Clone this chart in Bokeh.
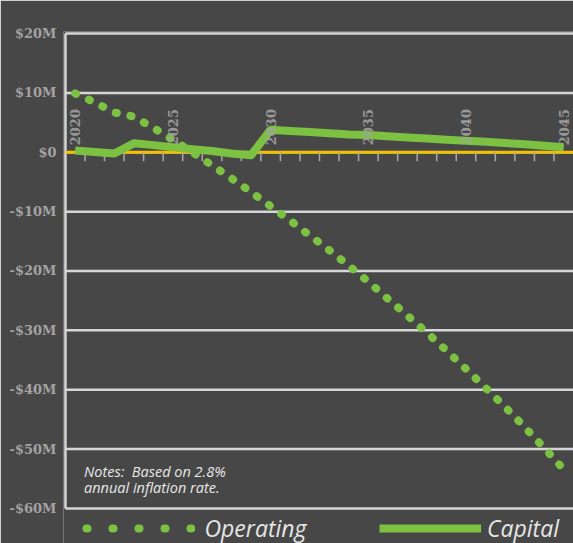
import math
from bokeh.plotting import figure
from bokeh.models import Range1d, FixedTicker, Legend, LegendItem, Label
from bokeh.core.properties import value
from bokeh.embed import file_html
from bokeh.resources import INLINE

# ---- data ----
years = list(range(2020, 2046))
operating = [9.9, 8.4, 6.7, 6.0, 4.1, 2.1, 0.0, -2.2, -4.4, -6.7, -9.1, -11.5, -14.0,
             -16.5, -19.1, -21.8, -24.7, -27.5, -30.4, -33.4, -36.5, -39.7, -42.9,
             -46.3, -49.8, -53.4]  # $M
capital = [0.3, 0.05, -0.2, 1.5, 1.2, 0.85, 0.5, 0.2, -0.2, -0.5, 3.8, 3.6, 3.4, 3.2,
           3.0, 2.9, 2.7, 2.5, 2.3, 2.1, 1.95, 1.75, 1.55, 1.35, 1.1, 0.85]  # $M
x_label_years = [2020, 2025, 2030, 2035, 2040, 2045]
y_ticks = [-60, -50, -40, -30, -20, -10, 0, 10, 20]
y_tick_labels = ["-$60M", "-$50M", "-$40M", "-$30M", "-$20M", "-$10M", "$0", "$10M", "$20M"]
notes = ["Notes:\u00a0 Based on 2.8%", "annual inflation rate."]
series_names = ["Operating", "Capital"]

BG = "#474747"
GREEN = "#7cc142"
GRID = "#d6d6d6"
LABEL_GREY = "#a3a3a3"

idx = list(range(len(years)))
y_lo, y_hi = min(y_ticks), max(y_ticks)

# frame spans the full lower part of the page; legend sits inside it under the grid
p = figure(width=573, height=543, output_backend="svg", toolbar_location=None,
           x_range=Range1d(-0.6, len(years) - 0.5), y_range=Range1d(-65.9, 20.34),
           x_axis_type=None, min_border_left=63, min_border_right=0,
           min_border_top=31, min_border_bottom=0)
p.background_fill_color = BG
p.border_fill_color = BG
p.outline_line_color = None

# y axis (labels only); the axis line is drawn between the outer grid lines
p.yaxis.ticker = FixedTicker(ticks=y_ticks)
p.yaxis.major_label_overrides = {t: s for t, s in zip(y_ticks, y_tick_labels)}
p.yaxis.major_tick_line_color = None
p.yaxis.major_tick_out = 0
p.yaxis.major_tick_in = 0
p.yaxis.minor_tick_line_color = None
p.yaxis.axis_line_color = None
p.yaxis.major_label_text_font = "DejaVu Serif"
p.yaxis.major_label_text_font_style = "bold"
p.yaxis.major_label_text_font_size = "13px"
p.yaxis.major_label_text_color = LABEL_GREY
p.yaxis.major_label_standoff = 7

p.ygrid.grid_line_color = None
p.xgrid.visible = False

# horizontal grid lines and the left axis line
p.segment(x0=[-0.5] * len(y_ticks), x1=[len(years) - 0.5] * len(y_ticks),
          y0=y_ticks, y1=y_ticks, line_color=GRID, line_width=2.5)
p.segment(x0=[-0.5], x1=[-0.5], y0=[y_lo], y1=[y_hi], line_color=GRID, line_width=2.5)

# zero (category) axis line
p.segment(x0=[-0.5], x1=[len(years) - 0.5], y0=[0], y1=[0], line_color="#f2c200",
          line_width=3)

# tick marks between categories, below the zero line
bounds = [i + 0.5 for i in idx[:-1]]
p.ray(x=bounds, y=[0] * len(bounds), length=9, length_units="screen",
      angle=-math.pi / 2, line_color="#a8a8a8", line_width=1.5)

# series
op = p.line(idx, operating, line_color=GREEN, line_width=8, line_dash="1 14",
            line_cap="round")
cap = p.line(idx, capital, line_color=GREEN, line_width=8, line_join="round")

# category labels (rotated) sitting on the zero line
lab_idx = [years.index(y) for y in x_label_years]
p.text(x=lab_idx, y=[0] * len(lab_idx), text=[str(y) for y in x_label_years],
       angle=math.pi / 2, text_align="left", text_baseline="middle", y_offset=-7,
       text_font=value("DejaVu Serif"), text_font_style="bold",
       text_font_size="13px", text_color=LABEL_GREY, text_alpha=0.9)

# notes
for yy, t in zip([-53.7, -56.5], notes):
    p.add_layout(Label(x=0.45, y=yy, text=t, text_font="Open Sans",
                       text_font_style="italic", text_font_size="14.5px",
                       text_color="#e8e8e8", text_baseline="alphabetic"))

# legend (legend-only renderers with no visible points)
nan = float("nan")
leg_op = p.line([0], [nan], line_color=GREEN, line_width=8, line_dash="1 25",
                line_dash_offset=-4, line_cap="round")
leg_cap = p.line([0], [nan], line_color=GREEN, line_width=8)

for r, name, loc, gw, so in [(leg_op, series_names[0], (18.5, -1), 113, 10),
                             (leg_cap, series_names[1], (316, -1), 102, 6)]:
    lg = Legend(items=[LegendItem(label=name, renderers=[r])], location=loc,
                orientation="horizontal", glyph_width=gw, glyph_height=20,
                label_standoff=so, padding=0, margin=0, spacing=0,
                background_fill_alpha=0, border_line_alpha=0,
                label_text_font="Open Sans", label_text_font_style="italic",
                label_text_font_size="23px", label_text_color="#e6e6e6")
    p.add_layout(lg)

open("out.html", "w").write(file_html(p, INLINE))
